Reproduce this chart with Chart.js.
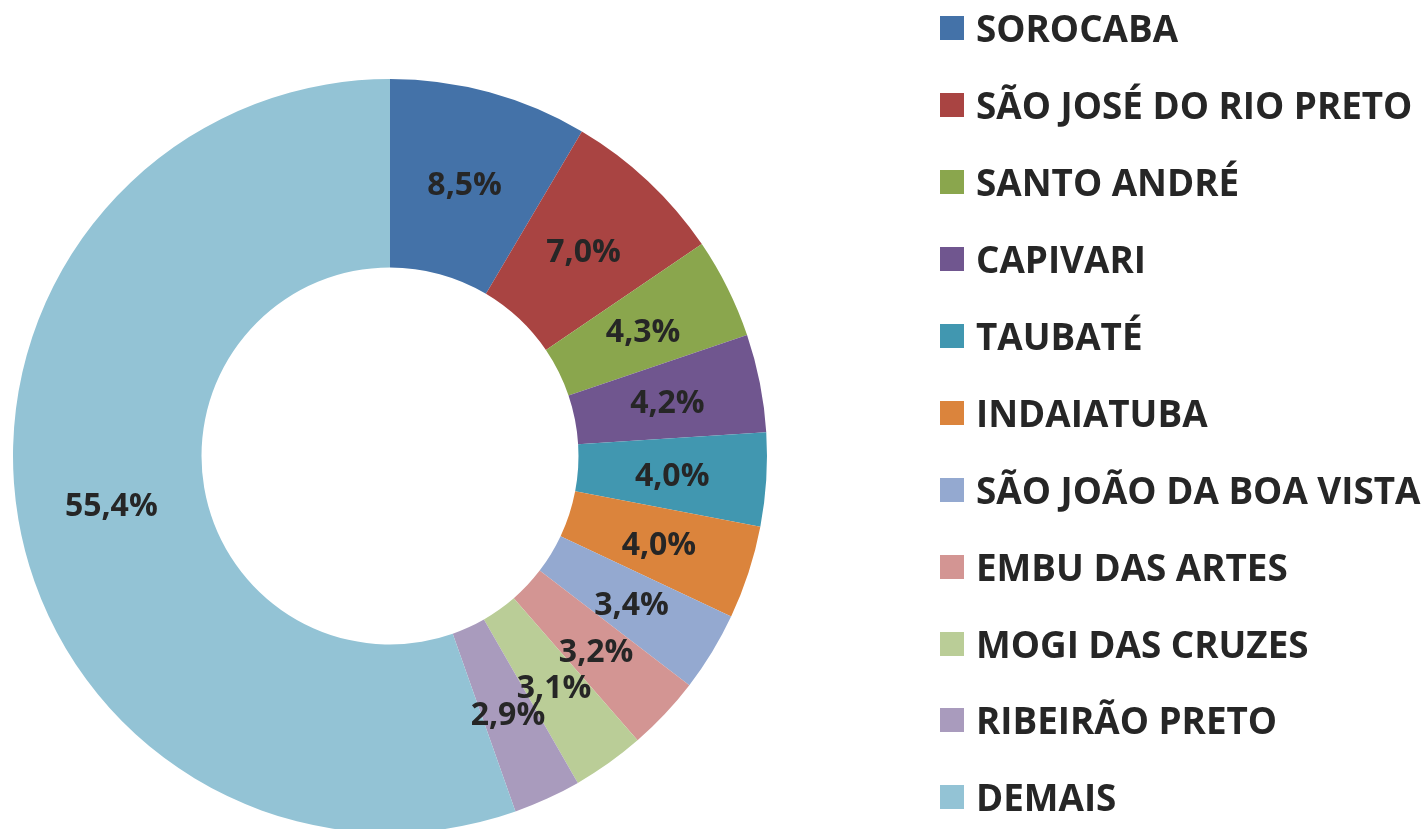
<!DOCTYPE html>
<html lang="pt">
  <head>
    <meta charset="UTF-8" />
    <title>Participação por município</title>
    <style>
      html, body {
        margin: 0;
        padding: 0;
        background: #ffffff;
        overflow: hidden;
      }
      .wrap {
        position: relative;
        width: 1426px;
        height: 829px;
        overflow: hidden;
      }
      #pie {
        position: absolute;
        left: 0;
        top: 0;
      }
      #legend {
        position: absolute;
        left: 940px;
        top: -10px;
        font-family: "Open Sans", sans-serif;
        font-weight: bold;
        font-size: 36.8px;
        color: #262626;
      }
      .item {
        display: flex;
        align-items: center;
        height: 76.9px;
        white-space: nowrap;
      }
      .box {
        width: 24px;
        height: 24px;
        margin-right: 12px;
        flex: none;
      }
    </style>
    <script src="https://cdn.jsdelivr.net/npm/chart.js"></script>
  </head>
  <body>
    <div class="wrap">
      <canvas id="pie" width="1426" height="840"></canvas>
      <div id="legend"></div>
    </div>

    <script>
      const cities = [
        "SOROCABA",
        "SÃO JOSÉ DO RIO PRETO",
        "SANTO ANDRÉ",
        "CAPIVARI",
        "TAUBATÉ",
        "INDAIATUBA",
        "SÃO JOÃO DA BOA VISTA",
        "EMBU DAS ARTES",
        "MOGI DAS CRUZES",
        "RIBEIRÃO PRETO",
        "DEMAIS",
      ];
      const shares = [8.5, 7.0, 4.3, 4.2, 4.0, 4.0, 3.4, 3.2, 3.1, 2.9, 55.4];
      const colors = [
        "#4472a8",
        "#a94442",
        "#8aa64d",
        "#70568f",
        "#4197b0",
        "#db843c",
        "#94a9d0",
        "#d39593",
        "#bacd97",
        "#a99bbd",
        "#93c3d5",
      ];

      // percent labels in the middle of each slice
      const sliceLabels = {
        id: "sliceLabels",
        afterDatasetsDraw(chart) {
          const ctx = chart.ctx;
          const meta = chart.getDatasetMeta(0);
          ctx.save();
          ctx.font = "bold 32px 'Open Sans', sans-serif";
          ctx.fillStyle = "#262626";
          ctx.textAlign = "center";
          ctx.textBaseline = "middle";
          meta.data.forEach((arc, i) => {
            const p = arc.tooltipPosition();
            const txt = shares[i].toFixed(1).replace(".", ",") + "%";
            ctx.fillText(txt, p.x, p.y + 3);
          });
          ctx.restore();
        },
      };

      new Chart(document.getElementById("pie"), {
        type: "doughnut",
        data: {
          labels: cities,
          datasets: [
            {
              data: shares,
              backgroundColor: colors,
              borderWidth: 0,
            },
          ],
        },
        options: {
          responsive: false,
          animation: false,
          cutout: "50%",
          layout: {
            padding: { left: 13, top: 79, right: 659, bottom: 7 },
          },
          plugins: {
            legend: { display: false },
            tooltip: { enabled: false },
          },
        },
        plugins: [sliceLabels],
      });

      const legend = document.getElementById("legend");
      cities.forEach((name, i) => {
        const row = document.createElement("div");
        row.className = "item";
        const box = document.createElement("span");
        box.className = "box";
        box.style.background = colors[i];
        const label = document.createElement("span");
        label.textContent = name;
        row.appendChild(box);
        row.appendChild(label);
        legend.appendChild(row);
      });
    </script>
  </body>
</html>
